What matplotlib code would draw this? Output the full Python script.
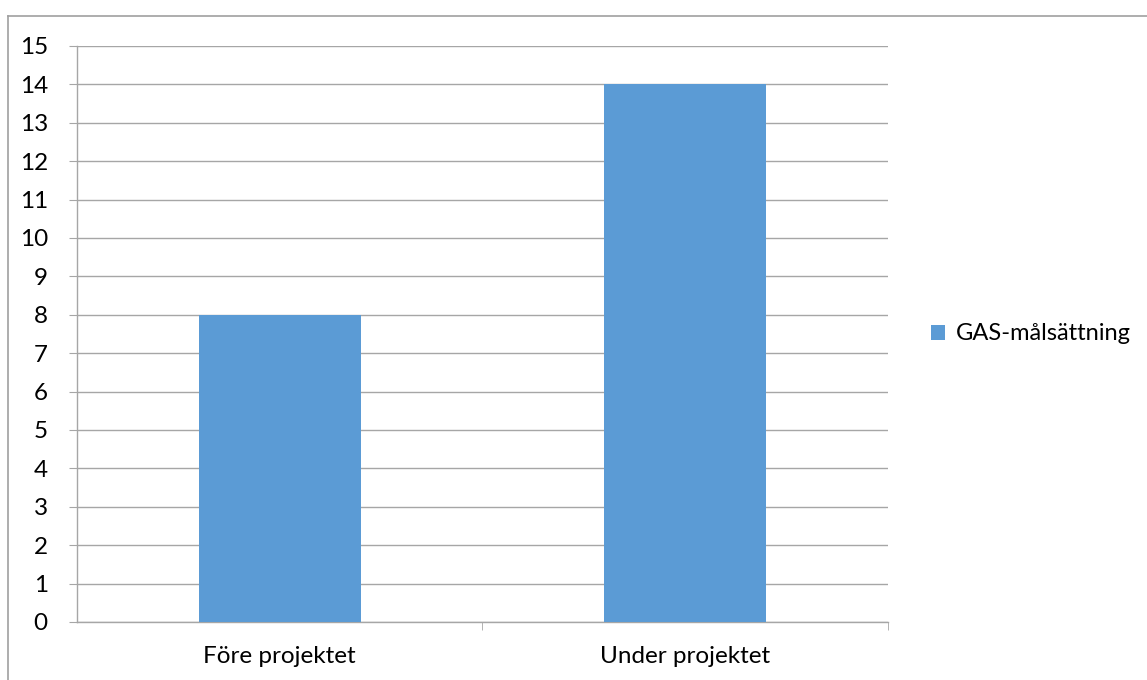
import matplotlib.pyplot as plt
from matplotlib.lines import Line2D

# Antal GAS-målsättningar per period
kategorier = ['Före projektet', 'Under projektet']
varden = [8, 14]
serie = 'GAS-målsättning'

plt.rcParams['font.family'] = ['Lato', 'DejaVu Sans']

fig = plt.figure(figsize=(11.47, 6.8), dpi=100)
ax = fig.add_axes([0.0671, 0.0853, 0.7071, 0.8471])

pos = list(range(len(kategorier)))
ax.bar(pos, varden, width=0.4, color='#5B9BD5', label=serie, zorder=3)

ax.set_xlim(-0.5, len(kategorier) - 0.5)
ax.set_ylim(0, 15)
ax.set_yticks(range(0, 16))
ax.tick_params(axis='y', labelsize=17.5, length=6, color='#A6A6A6', pad=15)

# Kategorietiketter mellan streck, streck på gränserna
ax.set_xticks(pos)
ax.set_xticklabels(kategorier, fontsize=17.5)
ax.tick_params(axis='x', which='major', length=0, pad=17)
ax.set_xticks([p + 0.5 for p in pos], minor=True)
ax.tick_params(axis='x', which='minor', length=6, color='#A6A6A6')

ax.grid(axis='y', color='#A6A6A6', linewidth=1, zorder=0)
for s in ['top', 'right']:
    ax.spines[s].set_visible(False)
for s in ['left', 'bottom']:
    ax.spines[s].set_color('#A6A6A6')
    ax.spines[s].set_linewidth(1)

ax.legend(loc='center left', bbox_to_anchor=(1.033, 0.5), frameon=False,
          fontsize=17, handlelength=0.6, handleheight=0.6, handletextpad=0.45,
          borderaxespad=0.3)

# Ram runt diagrammet (topp och vänster)
fig.add_artist(Line2D([8 / 1147, 1], [1 - 16 / 680, 1 - 16 / 680],
                      color='#A0A0A0', linewidth=1.2, transform=fig.transFigure))
fig.add_artist(Line2D([8 / 1147, 8 / 1147], [0, 1 - 16 / 680],
                      color='#A0A0A0', linewidth=1.2, transform=fig.transFigure))

fig.savefig('out.png', dpi=100)
